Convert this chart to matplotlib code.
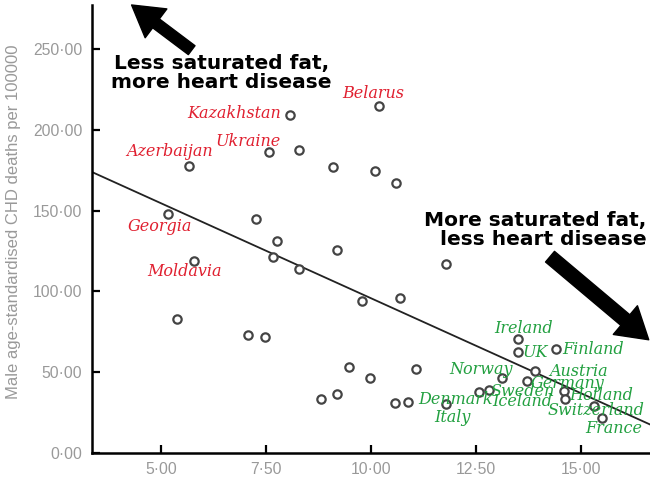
import matplotlib.pyplot as plt
import numpy as np

# Saturated fat intake (% energy) vs male CHD deaths per 100000
gordura = [8.07, 7.57, 8.29, 5.67, 10.18, 9.09, 10.10, 10.60, 5.17, 7.26,
           7.77, 7.67, 5.78, 8.29, 9.19, 11.78, 9.79, 10.68, 5.38, 7.06,
           7.48, 9.48, 9.98, 11.07, 8.80, 9.19, 10.58, 10.87, 11.79, 12.58,
           12.81, 13.11, 13.49, 13.49, 14.40, 13.91, 13.71, 14.60, 14.62, 15.30,
           15.49]
mortes = [209.3, 186.2, 187.9, 177.7, 214.9, 176.9, 174.8, 167.0, 148.1, 144.8,
          131.5, 121.1, 119.0, 113.8, 125.6, 116.9, 94.0, 96.1, 83.0, 72.9,
          71.9, 53.3, 46.1, 52.1, 33.1, 36.4, 30.6, 31.2, 30.0, 37.4,
          38.7, 46.1, 70.3, 62.2, 64.1, 50.6, 44.4, 38.2, 33.1, 29.1,
          21.3]

# country labels (text, x, y)
paises_leste = ['Belarus', 'Kazakhstan', 'Ukraine', 'Azerbaijan', 'Georgia', 'Moldavia']
leste_x = [10.05, 6.75, 7.08, 5.21, 4.97, 5.57]
leste_y = [222.7, 210.3, 192.9, 186.6, 140.1, 112.2]

paises_oeste = ['Ireland', 'UK', 'Finland', 'Norway', 'Austria', 'Germany', 'Sweden',
                'Holland', 'Denmark', 'Iceland', 'Italy', 'Switzerland', 'France']
oeste_x = [13.64, 13.92, 15.29, 12.61, 14.94, 14.68, 13.60, 15.47, 12.02, 13.61, 11.94, 15.35, 15.78]
oeste_y = [77.1, 62.0, 64.1, 51.7, 50.2, 42.6, 38.2, 35.3, 33.1, 31.8, 21.9, 26.2, 15.1]

xticks = [5, 7.5, 10, 12.5, 15]
yticks = [0, 50, 100, 150, 200, 250]

plt.rcParams['font.family'] = ['Liberation Sans', 'DejaVu Sans']

fig = plt.figure(figsize=(6.5, 4.88), dpi=100)
ax = fig.add_axes([0.1415, 0.0723, 0.8585, 0.9175])

# Linear fit
coef = np.polyfit(gordura, mortes, 1)
xl = np.array([3.357, 16.64])
ax.plot(xl, np.polyval(coef, xl), color='#222222', lw=1.3, zorder=2)

ax.plot(gordura, mortes, 'o', mfc='white', mec='#444444', ms=6, mew=1.6, zorder=3)

for nome, x, y in zip(paises_leste, leste_x, leste_y):
    ax.text(x, y, nome, color='#e02030', fontsize=11.5, style='italic',
            family='DejaVu Serif', ha='center', va='center')
for nome, x, y in zip(paises_oeste, oeste_x, oeste_y):
    ax.text(x, y, nome, color='#22a040', fontsize=11.5, style='italic',
            family='DejaVu Serif', ha='center', va='center')

ax.text(6.43, 235.3, 'Less saturated fat,\nmore heart disease', fontsize=14.5,
        fontweight='heavy', family='DejaVu Sans', ha='center', va='center',
        linespacing=0.95)
ax.text(16.55, 138, 'More saturated fat,\nless heart disease', fontsize=14.5,
        fontweight='heavy', family='DejaVu Sans', ha='right', va='center',
        linespacing=0.95)

ax.annotate('', xy=(4.30, 277.5), xytext=(5.73, 249.5), annotation_clip=False,
            arrowprops=dict(arrowstyle='simple,head_length=1.1,head_width=1.3,tail_width=0.4',
                            fc='black', ec='black', mutation_scale=20,
                            shrinkA=0, shrinkB=0))
ax.annotate('', xy=(16.61, 70.0), xytext=(14.26, 121.5), annotation_clip=False,
            arrowprops=dict(arrowstyle='simple,head_length=1.1,head_width=1.35,tail_width=0.5',
                            fc='black', ec='black', mutation_scale=20,
                            shrinkA=0, shrinkB=0))

ax.set_xlim(3.357, 16.64)
ax.set_ylim(0, 277.5)
ax.set_xticks(xticks)
ax.set_yticks(yticks)
ax.set_xticklabels([f'{v:.2f}'.replace('.', '·') for v in xticks])
ax.set_yticklabels([f'{v:.2f}'.replace('.', '·') for v in yticks])
ax.tick_params(direction='in', length=6, width=1.6, colors='black',
               labelcolor='#999999', labelsize=11.3, pad=7)
ax.set_ylabel('Male age-standardised CHD deaths per 100000', color='#999999',
              fontsize=12)
ax.yaxis.set_label_coords(-0.128, 0.515)

for s in ['top', 'right']:
    ax.spines[s].set_visible(False)
for s in ['left', 'bottom']:
    ax.spines[s].set_linewidth(1.8)

plt.savefig('out.png', dpi=100)
